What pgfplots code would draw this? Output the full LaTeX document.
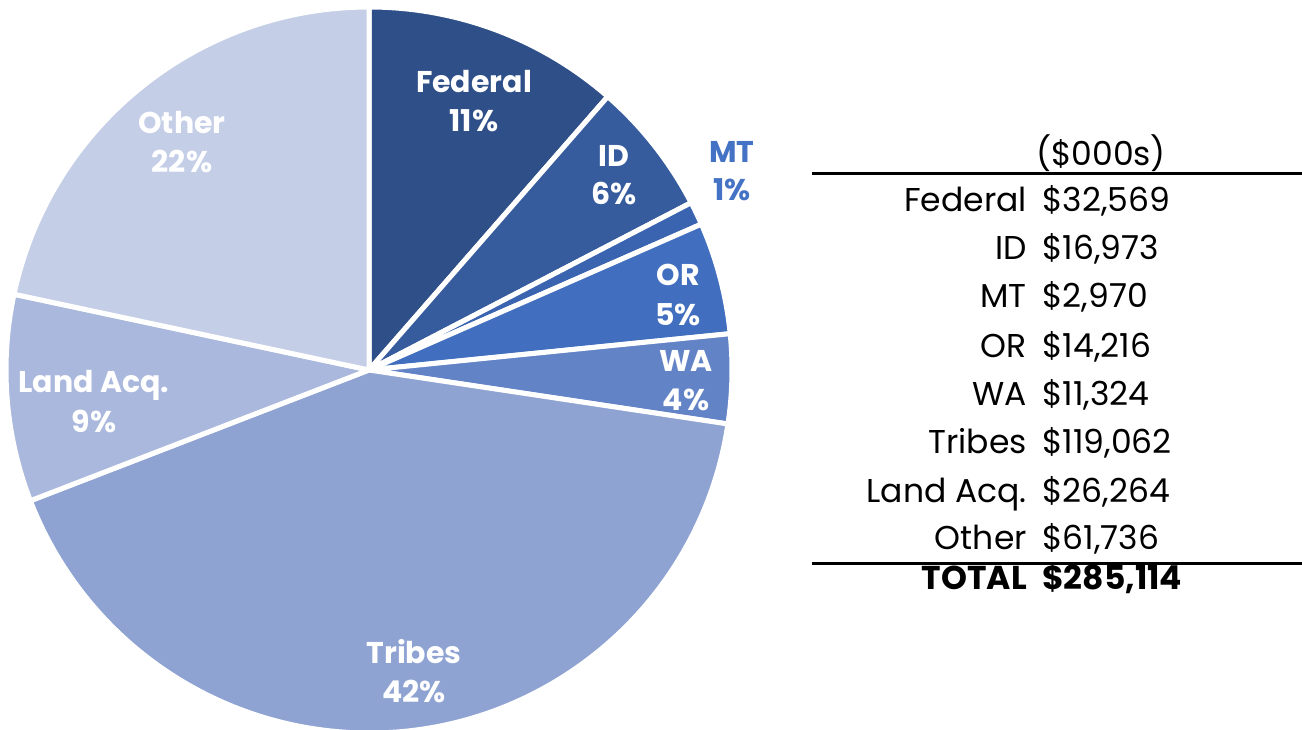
\documentclass[border=0pt]{standalone}
\usepackage{fontspec}
\setmainfont{Poppins}
\usepackage{pgfplots}
\usepackage{pgfplotstable}
\pgfplotsset{compat=1.18}

\definecolor{pie0}{HTML}{2F4F88}
\definecolor{pie1}{HTML}{365C9E}
\definecolor{pie2}{HTML}{3A64AF}
\definecolor{pie3}{HTML}{416EBE}
\definecolor{pie4}{HTML}{6383C7}
\definecolor{pie5}{HTML}{8FA3D3}
\definecolor{pie6}{HTML}{AAB8DD}
\definecolor{pie7}{HTML}{C5CEE7}
\definecolor{mtblue}{HTML}{4472C4}

% spending in $000s
\pgfplotstableread{
label value
Federal 32569
ID 16973
MT 2970
OR 14216
WA 11324
Tribes 119062
LandAcq 26264
Other 61736
}\pietable

% cumulative angles, clockwise from the top
\def\pietotal{0}%
\pgfplotsforeachungrouped \i in {0,...,7}{%
  \pgfplotstablegetelem{\i}{value}\of\pietable
  \xdef\pietotal{\fpeval{\pietotal+\pgfplotsretval}}}%
\def\piecum{0}%
\pgfplotsforeachungrouped \i in {0,...,7}{%
  \pgfplotstablegetelem{\i}{value}\of\pietable
  \expandafter\xdef\csname pieS\i\endcsname{\fpeval{90-360*\piecum/\pietotal}}%
  \xdef\piecum{\fpeval{\piecum+\pgfplotsretval}}%
  \expandafter\xdef\csname pieE\i\endcsname{\fpeval{90-360*\piecum/\pietotal}}}%

\begin{document}
\begin{tikzpicture}
\begin{axis}[
  width=1302pt, height=730pt, scale only axis,
  xmin=0, xmax=1302, ymin=0, ymax=730, y dir=reverse,
  hide axis, clip=false,
]
\coordinate (bl) at (axis cs:0,730);
\coordinate (tr) at (axis cs:1302,0);
\pgfplotsinvokeforeach{0,...,7}{
  \filldraw[fill=pie#1, draw=white, line width=5pt, line join=round]
    (axis cs:369,370) -- ++(\csname pieS#1\endcsname:363pt)
    arc[start angle=\csname pieS#1\endcsname, end angle=\csname pieE#1\endcsname, radius=363pt] -- cycle;
}

% slice labels
\tikzset{lb/.style={anchor=base, font=\fontsize{30}{36}\selectfont\bfseries, text=white, inner sep=0pt}}
\node[lb] at (axis cs:474,93) {Federal};
\node[lb] at (axis cs:474,132) {11\%};
\node[lb] at (axis cs:614,167) {ID};
\node[lb] at (axis cs:614,205) {6\%};
\node[lb, text=mtblue] at (axis cs:732,163) {MT};
\node[lb, text=mtblue] at (axis cs:732,201) {1\%};
\node[lb] at (axis cs:678,286) {OR};
\node[lb] at (axis cs:678,325) {5\%};
\node[lb] at (axis cs:686,371) {WA};
\node[lb] at (axis cs:686,410) {4\%};
\node[lb] at (axis cs:414,663) {Tribes};
\node[lb] at (axis cs:414,702) {42\%};
\node[lb] at (axis cs:94,392) {Land Acq.};
\node[lb] at (axis cs:94,432) {9\%};
\node[lb] at (axis cs:182,134) {Other};
\node[lb] at (axis cs:182,173) {22\%};

% table
\tikzset{tl/.style={anchor=base east, font=\fontsize{33}{40}\selectfont, inner sep=0pt},
         tv/.style={anchor=base west, font=\fontsize{33}{40}\selectfont, inner sep=0pt}}
\node[anchor=base, font=\fontsize{33}{40}\selectfont, inner sep=0pt] at (axis cs:1101,166) {(\$000s)};
\draw[black, line width=3pt] (axis cs:812,174) -- (axis cs:1302,174);
\node[tl] at (axis cs:1027,212) {Federal}; \node[tv] at (axis cs:1042,212) {\$32,569};
\node[tl] at (axis cs:1027,260) {ID};      \node[tv] at (axis cs:1042,260) {\$16,973};
\node[tl] at (axis cs:1027,308) {MT};      \node[tv] at (axis cs:1042,308) {\$2,970};
\node[tl] at (axis cs:1027,357) {OR};      \node[tv] at (axis cs:1042,357) {\$14,216};
\node[tl] at (axis cs:1027,405) {WA};      \node[tv] at (axis cs:1042,405) {\$11,324};
\node[tl] at (axis cs:1027,453) {Tribes};  \node[tv] at (axis cs:1042,453) {\$119,062};
\node[tl] at (axis cs:1027,502) {Land Acq.}; \node[tv] at (axis cs:1042,502) {\$26,264};
\node[tl] at (axis cs:1027,549) {Other};   \node[tv] at (axis cs:1042,549) {\$61,736};
\draw[black, line width=3pt] (axis cs:812,563) -- (axis cs:1302,563);
\node[tl, font=\fontsize{33}{40}\selectfont\bfseries] at (axis cs:1027,589) {TOTAL};
\node[tv, font=\fontsize{33}{40}\selectfont\bfseries] at (axis cs:1042,589) {\$285,114};
\end{axis}
\pgfresetboundingbox
\useasboundingbox (bl) rectangle (tr);
\end{tikzpicture}
\end{document}
